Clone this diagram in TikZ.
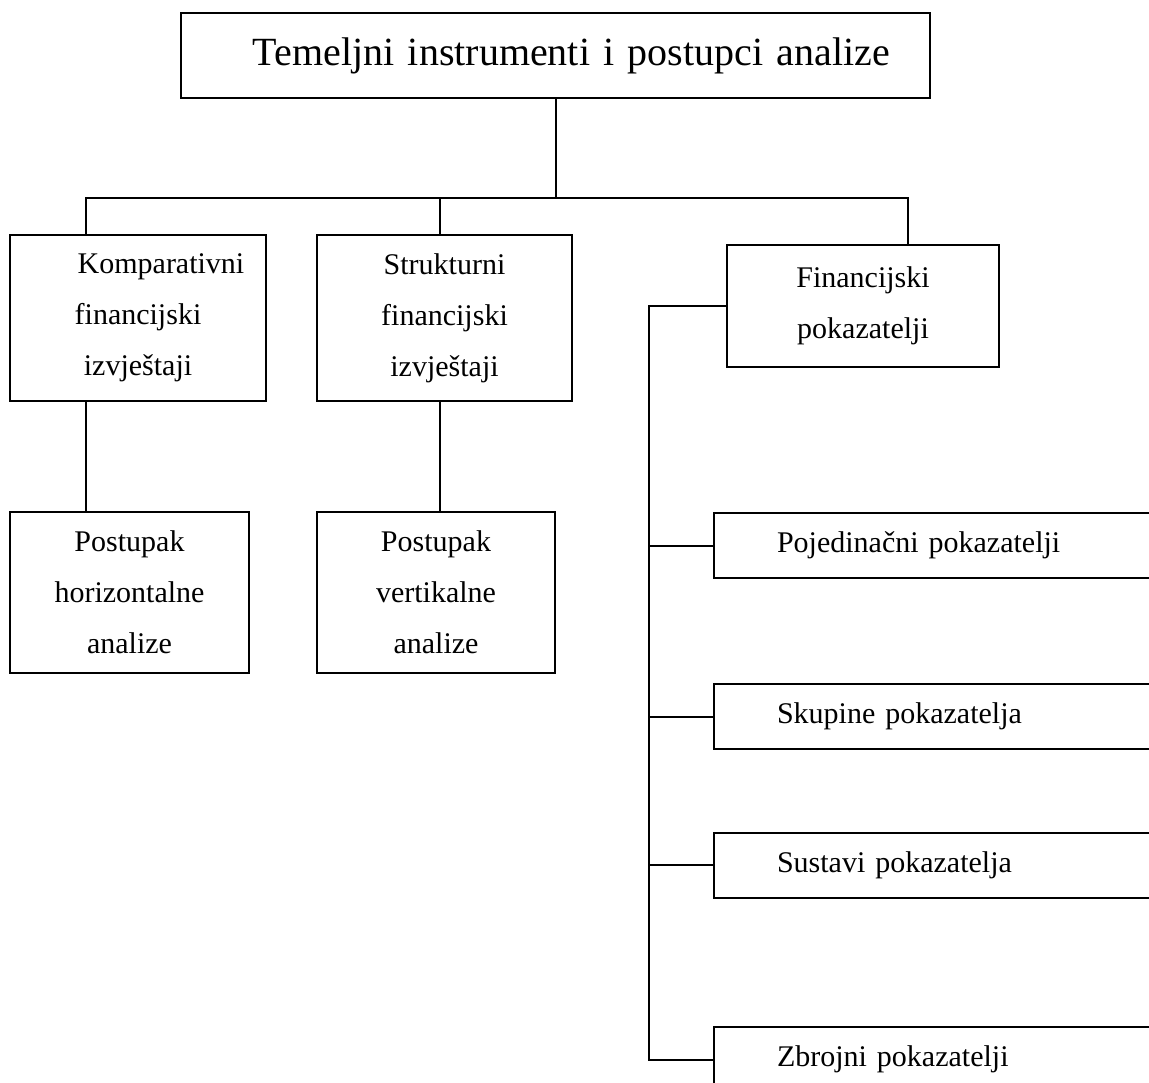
\documentclass[tikz,border=0pt]{standalone}
\usepackage{fontspec}
\setmainfont{Liberation Serif}

\begin{document}
\begin{tikzpicture}[x=1pt, y=-1pt, line width=2pt,
    box/.style={draw, align=center, font=\fontsize{30}{51}\selectfont},
    topbox/.style={draw, align=right, text width=669pt, inner xsep=40pt,
        minimum height=85pt, font=\fontsize{40}{48}\selectfont},
    sidebox/.style={draw, anchor=west, align=left, text width=380pt,
        inner xsep=63pt, minimum height=65pt, font=\fontsize{30}{36}\selectfont}]
        \clip (0,0) rectangle (1149,1083);
%        \draw [help lines] (0,0) grid [step=100] (1149,1083);
        \node [topbox] (title) at (555.5,55.5) {Temeljni instrumenti i postupci analize};

        \node [box, minimum width=256pt, minimum height=166pt] (komp) at (138,318)
            {\hspace*{46pt}Komparativni\\financijski\\izvještaji};
        \node [box, minimum width=255pt, minimum height=166pt] (struk) at (444.5,318)
            {Strukturni\\financijski\\izvještaji};
        \node [box, minimum width=272pt, minimum height=122pt] (fin) at (863,306)
            {Financijski\\pokazatelji};

        \node [box, minimum width=239pt, minimum height=161pt] (horiz) at (129.5,592.5)
            {Postupak\\horizontalne\\analize};
        \node [box, minimum width=238pt, minimum height=161pt] (vert) at (436,592.5)
            {Postupak\\vertikalne\\analize};

        \node [sidebox] (poj) at (713,545.5) {Pojedinačni pokazatelji};
        \node [sidebox] (skup) at (713,716.5) {Skupine pokazatelja};
        \node [sidebox] (sust) at (713,865) {Sustavi pokazatelja};
        \node [sidebox] (zbroj) at (713,1059.5) {Zbrojni pokazatelji};

        % upper tree
        \draw (title.south) -- ++(0,99) coordinate (hub);
        \draw ([xshift=-52pt]komp.north) |- (hub) -| ([xshift=45pt]fin.north);
        \draw ([xshift=-5pt]struk.north) -- ([xshift=-5pt]struk.north |- hub);
        \draw ([xshift=-52pt]komp.south) -- ([xshift=-52pt]komp.south |- horiz.north);
        \draw ([xshift=-5pt]struk.south) -- ([xshift=-5pt]struk.south |- vert.north);

        % pokazatelji
        \draw (fin.west) -- ++(-77,0) coordinate (bus) |- (zbroj.west);
        \foreach \n in {poj,skup,sust}
            \draw (bus |- \n.west) -- (\n.west);
\end{tikzpicture}
\end{document}
